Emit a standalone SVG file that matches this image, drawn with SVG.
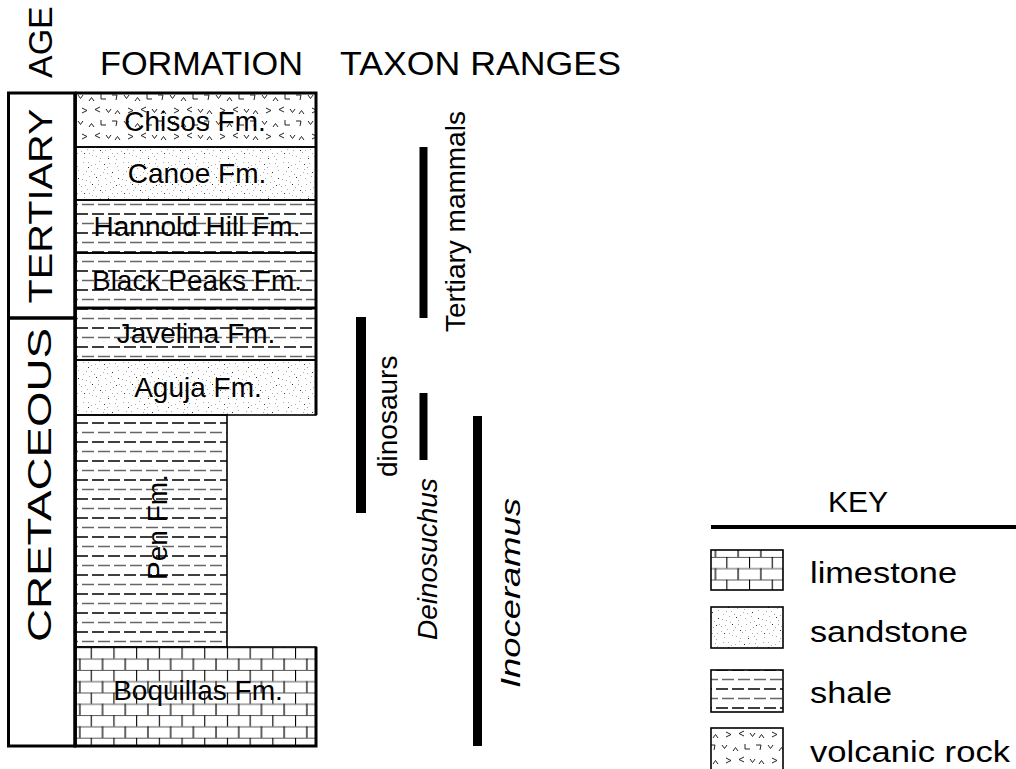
<svg xmlns="http://www.w3.org/2000/svg" width="1016" height="769" viewBox="0 0 1016 769">
<style>
text{font-family:"Liberation Sans",Arial,sans-serif;fill:#000}
.hdr{font-size:34px}
.fm{font-size:28px;text-anchor:middle}
.tx{font-size:28px}
.it{font-style:italic}
.key{font-size:30px}
.thick{fill:none;stroke:#000;stroke-width:3}
.thin{fill:none;stroke:#000;stroke-width:1.6}
.bar{fill:#000}
</style>
<defs>
<pattern id="shale" patternUnits="userSpaceOnUse" x="76" y="0" width="48" height="19">
<path d="M0 5H12M16 5H28M32 5H44" stroke="#000" stroke-width="1.3"/>
<path d="M0 14.5H2M6 14.5H18M22 14.5H34M38 14.5H48" stroke="#666" stroke-width="1.5"/>
</pattern>
<pattern id="lime" patternUnits="userSpaceOnUse" x="90.7" y="647.3" width="22.7" height="22.6">
<path d="M0 0.5H22.7M0 11.8H22.7" stroke="#555" stroke-width="1"/>
<path d="M0.5 0V11.3M11.85 11.3V22.6" stroke="#000" stroke-width="1.2"/>
</pattern>
<pattern id="sand" patternUnits="userSpaceOnUse" width="40" height="40">
<path fill="#aaa" d="M3 2h1v1h-1zM11 5h1v1h-1zM19 1h1v1h-1zM27 7h1v1h-1zM35 3h1v1h-1zM6 11h1v1h-1zM14 14h1v1h-1zM23 12h1v1h-1zM31 16h1v1h-1zM38 10h1v1h-1zM2 19h1v1h-1zM10 22h1v1h-1zM18 20h1v1h-1zM26 24h1v1h-1zM34 21h1v1h-1zM7 29h1v1h-1zM15 27h1v1h-1zM22 32h1v1h-1zM30 29h1v1h-1zM37 33h1v1h-1zM4 37h1v1h-1zM12 35h1v1h-1zM20 38h1v1h-1zM28 36h1v1h-1zM36 39h1v1h-1zM9 16h1v1h-1zM33 27h1v1h-1zM17 8h1v1h-1zM25 18h1v1h-1zM1 31h1v1h-1zM39 24h1v1h-1zM13 30h1v1h-1zM29 3h1v1h-1zM5 25h1v1h-1zM21 26h1v1h-1zM8 2h1v1h-1zM16 36h1v1h-1zM32 33h1v1h-1zM24 9h1v1h-1zM3 14h1v1h-1zM15 4h1v1h-1zM37 6h1v1h-1zM27 13h1v1h-1zM11 11h1v1h-1zM20 15h1v1h-1zM6 20h1v1h-1zM30 22h1v1h-1zM1 26h1v1h-1zM25 30h1v1h-1zM9 33h1v1h-1zM34 36h1v1h-1zM18 24h1v1h-1z"/>
<path fill="#333" d="M8 7h1v1h-1zM24 4h1v1h-1zM16 17h1v1h-1zM32 12h1v1h-1zM4 33h1v1h-1zM20 30h1v1h-1zM36 25h1v1h-1zM12 24h1v1h-1zM28 38h1v1h-1zM38 18h1v1h-1z"/>
</pattern>
<pattern id="volc" patternUnits="userSpaceOnUse" x="76" y="93" width="46" height="26">
<path d="M2 2L4.5 5.5L7 2M13 8L15.5 4.5L18 8M25 1V6H30M36 2H41L40 7M6 15L11 17.5L6 20M24 14L19 16.5L24 19M30 16L32.5 19.5L35 16M39 21L41.5 17.5L44 21" fill="none" stroke="#222" stroke-width="1"/>
</pattern>
</defs>

<g id="headers">
<text class="hdr" transform="translate(52,78) rotate(-90)">AGE</text>
<text class="hdr" x="100" y="75" textLength="203" lengthAdjust="spacingAndGlyphs">FORMATION</text>
<text class="hdr" x="340" y="75" textLength="281" lengthAdjust="spacingAndGlyphs">TAXON RANGES</text>
</g>

<g id="age-tertiary">
<rect class="thick" x="8.5" y="93" width="66.5" height="225"/>
<text class="hdr" text-anchor="middle" transform="translate(52,206) rotate(-90)" textLength="195" lengthAdjust="spacingAndGlyphs">TERTIARY</text>
</g>
<g id="age-cretaceous">
<rect class="thick" x="8.5" y="318" width="66.5" height="428"/>
<text class="hdr" text-anchor="middle" transform="translate(51,485) rotate(-90)" textLength="314" lengthAdjust="spacingAndGlyphs">CRETACEOUS</text>
</g>

<g id="chisos">
<rect x="76" y="93" width="240" height="54" fill="url(#volc)"/>
<rect class="thin" x="76" y="93" width="240" height="54"/>
<text class="fm" x="195" y="131">Chisos Fm.</text>
</g>
<g id="canoe">
<rect x="76" y="147" width="240" height="53" fill="url(#sand)"/>
<rect class="thin" x="76" y="147" width="240" height="53"/>
<text class="fm" x="197" y="183">Canoe Fm.</text>
</g>
<g id="hannold-hill">
<rect x="76" y="200" width="240" height="53" fill="url(#shale)"/>
<rect class="thin" x="76" y="200" width="240" height="53"/>
<text class="fm" x="197" y="236">Hannold Hill Fm.</text>
</g>
<g id="black-peaks">
<rect x="76" y="253" width="240" height="55" fill="url(#shale)"/>
<rect class="thin" x="76" y="253" width="240" height="55"/>
<text class="fm" x="197" y="290">Black Peaks Fm.</text>
</g>
<g id="javelina">
<rect x="76" y="308" width="240" height="52" fill="url(#shale)"/>
<rect class="thin" x="76" y="308" width="240" height="52"/>
<text class="fm" x="196" y="343">Javelina Fm.</text>
</g>
<g id="aguja">
<rect x="76" y="360" width="240" height="55" fill="url(#sand)"/>
<rect class="thin" x="76" y="360" width="240" height="55"/>
<text class="fm" x="198" y="397">Aguja Fm.</text>
</g>
<g id="pen">
<rect x="76" y="415" width="151" height="232" fill="url(#shale)"/>
<rect class="thin" x="76" y="415" width="151" height="232"/>
<text class="fm" transform="translate(167,527) rotate(-90)">Pen Fm.</text>
</g>
<g id="boquillas">
<rect x="76" y="647" width="240" height="99" fill="url(#lime)"/>
<rect class="thin" x="76" y="647" width="240" height="99"/>
<text class="fm" x="198" y="700">Boquillas Fm.</text>
</g>

<g id="column-outline">
<path class="thick" d="M75 93H316V415M316 647V746H75V93"/>
<path class="thick" d="M76 308H316"/>
</g>

<g id="ranges">
<rect class="bar" x="419.5" y="147" width="8" height="171"/>
<rect class="bar" x="356" y="317" width="10" height="196"/>
<rect class="bar" x="419.5" y="393" width="8" height="67"/>
<rect class="bar" x="473" y="416" width="9" height="330"/>
</g>
<g id="range-labels">
<text class="tx" transform="translate(465,332) rotate(-90)">Tertiary mammals</text>
<text class="tx" transform="translate(397,477) rotate(-90)">dinosaurs</text>
<text class="tx it" transform="translate(437,640) rotate(-90)">Deinosuchus</text>
<text class="tx it" transform="translate(520,688) rotate(-90)" textLength="190" lengthAdjust="spacingAndGlyphs">Inoceramus</text>
</g>

<g id="key">
<text class="key" x="858" y="512" text-anchor="middle">KEY</text>
<rect x="711" y="525" width="305" height="4" fill="#000"/>
<g id="key-limestone">
<rect x="711" y="550" width="72" height="40" fill="url(#lime)"/>
<rect class="thin" x="711" y="550" width="72" height="40"/>
<text class="key" x="810" y="583" textLength="147" lengthAdjust="spacingAndGlyphs">limestone</text>
</g>
<g id="key-sandstone">
<rect x="711" y="607" width="72" height="41" fill="url(#sand)"/>
<rect class="thin" x="711" y="607" width="72" height="41"/>
<text class="key" x="810" y="642" textLength="158" lengthAdjust="spacingAndGlyphs">sandstone</text>
</g>
<g id="key-shale">
<rect x="711" y="670" width="72" height="42" fill="url(#shale)"/>
<rect class="thin" x="711" y="670" width="72" height="42"/>
<text class="key" x="810" y="703" textLength="82" lengthAdjust="spacingAndGlyphs">shale</text>
</g>
<g id="key-volcanic">
<rect x="711" y="728" width="72" height="44" fill="url(#volc)"/>
<rect class="thin" x="711" y="728" width="72" height="44"/>
<text class="key" x="810" y="762" textLength="200" lengthAdjust="spacingAndGlyphs">volcanic rock</text>
</g>
</g>
</svg>
